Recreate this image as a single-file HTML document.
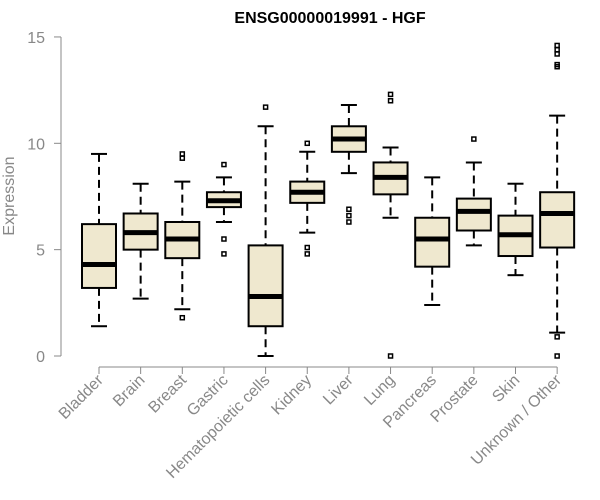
<!DOCTYPE html>
<html><head><meta charset="utf-8"><style>
body{margin:0;background:#fff;}
svg{display:block;font-family:"Liberation Sans",Arial,sans-serif;}
</style></head><body>
<svg id="chart" width="600" height="500">
<text x="330" y="23" text-anchor="middle" font-size="16" font-weight="bold">ENSG00000019991 - HGF</text>
<text transform="translate(14,196) rotate(-90)" text-anchor="middle" font-size="16" fill="#888">Expression</text>
<g id="yaxis"></g>
<g id="xaxis"></g>
<g id="boxes"></g>
</svg>
<script>
const categories=["Bladder","Brain","Breast","Gastric","Hematopoietic cells","Kidney","Liver","Lung","Pancreas","Prostate","Skin","Unknown / Other"];
const whiskerLow=[1.4,2.7,2.2,6.3,0,5.8,8.6,6.5,2.4,5.2,3.8,1.1];
const q1=[3.2,5.0,4.6,7.0,1.4,7.2,9.6,7.6,4.2,5.9,4.7,5.1];
const medians=[4.3,5.8,5.5,7.3,2.8,7.7,10.2,8.4,5.5,6.8,5.7,6.7];
const q3=[6.2,6.7,6.3,7.7,5.2,8.2,10.8,9.1,6.5,7.4,6.6,7.7];
const whiskerHigh=[9.5,8.1,8.2,8.4,10.8,9.6,11.8,9.8,8.4,9.1,8.1,11.3];
const outliers=[[],[],[1.8,9.3,9.5],[9.0,5.5,4.8],[11.7],[10.0,5.1,4.8],[6.9,6.6,6.3],[12.0,12.3,0],[],[10.2],[],[14.6,14.4,14.2,13.7,13.6,0.9,0]];
const yTicks=[0,5,10,15];
const NS="http://www.w3.org/2000/svg";
const y=v=>356-v*21.27;
const x=i=>99+i*41.65;
function mk(tag,attrs,parent){const e=document.createElementNS(NS,tag);for(const k in attrs)e.setAttribute(k,attrs[k]);parent.appendChild(e);return e;}
const ya=document.getElementById('yaxis'),xa=document.getElementById('xaxis'),bx=document.getElementById('boxes');
let l=mk('line',{x1:61,x2:61,y1:y(15),y2:y(0),stroke:'#888'},ya);


yTicks.forEach(t=>{
 let tk=mk('line',{x1:54,x2:61,y1:y(t),y2:y(t),stroke:'#888'},ya);
 
 
 let tx=mk('text',{x:45,y:y(t)+6,'text-anchor':'end','font-size':16,fill:'#888'},ya);
 tx.textContent=t;
 
 
});
let xl=mk('line',{x1:x(0),x2:x(categories.length-1),y1:367,y2:367,stroke:'#888'},xa);


categories.forEach((c,i)=>{
 const cx=x(i);
 let tk=mk('line',{x1:cx,x2:cx,y1:367,y2:374,stroke:'#888'},xa);
 
 
 let tx=mk('text',{transform:`translate(${cx+5},${381}) rotate(-45)`,'text-anchor':'end','font-size':16,fill:'#888'},xa);
 tx.textContent=c;
 
 
 const g=mk('g',{},bx);
 
 
 mk('line',{x1:cx,x2:cx,y1:y(whiskerHigh[i]),y2:y(q3[i]),stroke:'#000','stroke-width':2,'stroke-dasharray':'8,5'},g);
 mk('line',{x1:cx,x2:cx,y1:y(q1[i]),y2:y(whiskerLow[i]),stroke:'#000','stroke-width':2,'stroke-dasharray':'8,5'},g);
 mk('line',{x1:cx-8,x2:cx+8,y1:y(whiskerHigh[i]),y2:y(whiskerHigh[i]),stroke:'#000','stroke-width':2},g);
 mk('line',{x1:cx-8,x2:cx+8,y1:y(whiskerLow[i]),y2:y(whiskerLow[i]),stroke:'#000','stroke-width':2},g);
 mk('rect',{x:cx-17,y:y(q3[i]),width:34,height:y(q1[i])-y(q3[i]),fill:'#efe8cf',stroke:'#000','stroke-width':2},g);
 mk('line',{x1:cx-17,x2:cx+17,y1:y(medians[i]),y2:y(medians[i]),stroke:'#000','stroke-width':5},g);
 outliers[i].forEach(o=>{
  let p=mk('rect',{x:cx-2,y:y(o)-2,width:4,height:4,fill:'none',stroke:'#000','stroke-width':1.5},g);
  
  
 });
});
</script>
</body></html>
